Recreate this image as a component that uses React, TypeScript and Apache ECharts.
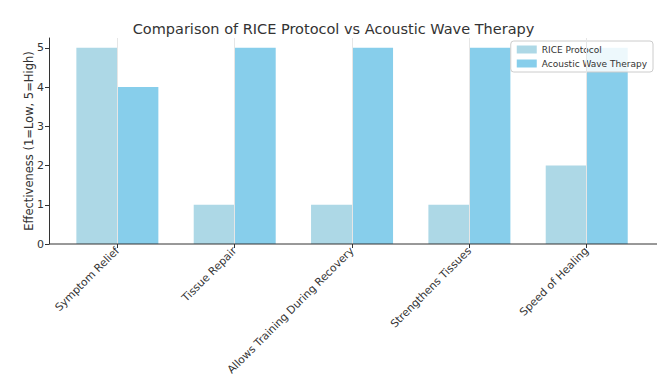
import React, { useEffect, useRef } from "react";
import * as echarts from "echarts";

const categories = [
  "Symptom Relief",
  "Tissue Repair",
  "Allows Training During Recovery",
  "Strengthens Tissues",
  "Speed of Healing",
];
const riceValues = [5, 1, 1, 1, 2];
const acousticValues = [4, 5, 5, 5, 5];
const yTicks = [0, 1, 2, 3, 4, 5];

const FONT = "DejaVu Sans";

export default function App() {
  const ref = useRef<HTMLDivElement>(null);
  useEffect(() => {
    if (!ref.current) return;
    const chart = echarts.init(ref.current, null, { renderer: "svg" });
    chart.setOption({
      animation: false,
      backgroundColor: "#ffffff",
      title: {
        text: "Comparison of RICE Protocol vs Acoustic Wave Therapy",
        left: "center",
        top: 16,
        textStyle: { fontFamily: FONT, fontSize: 14.5, fontWeight: "normal", color: "#333" },
      },
      legend: {
        orient: "vertical",
        right: 14,
        top: 41,
        backgroundColor: "rgba(255,255,255,0.85)",
        borderColor: "#cccccc",
        borderWidth: 1,
        borderRadius: 3,
        padding: [4, 6, 4, 6],
        itemGap: 5,
        itemWidth: 20,
        itemHeight: 8,
        icon: "rect",
        textStyle: { fontFamily: FONT, fontSize: 9, color: "#333" },
        data: ["RICE Protocol", "Acoustic Wave Therapy"],
      },
      grid: {
        left: 58.7,
        right: 21.6,
        top: 38,
        bottom: 134,
        containLabel: false,
        outerBoundsMode: "none",
      },
      xAxis: {
        type: "category",
        data: categories,
        axisLine: { show: false },
        axisTick: { show: true, alignWithLabel: true, length: 4, lineStyle: { color: "#333" } },
        axisLabel: {
          rotate: 45,
          interval: 0,
          margin: 5,
          fontFamily: FONT,
          fontSize: 10.8,
          color: "#333",
        },
        splitLine: { show: false },
      },
      yAxis: {
        type: "value",
        min: 0,
        max: 5.25,
        offset: 9.7,
        name: "Effectiveness (1=Low, 5=High)",
        nameLocation: "middle",
        nameGap: 14,
        nameMoveOverlap: false,
        nameTextStyle: { fontFamily: FONT, fontSize: 11.5, color: "#333" },
        axisLine: { show: true, lineStyle: { color: "#333", width: 1 } },
        axisTick: { show: true, length: 4, customValues: yTicks, lineStyle: { color: "#333" } },
        axisLabel: { customValues: yTicks, fontFamily: FONT, fontSize: 11, color: "#333", margin: 5 },
        splitLine: { show: false },
      },
      graphic: [
        {
          type: "line",
          z: 10,
          shape: { x1: 49, y1: 244, x2: 657, y2: 244 },
          style: { stroke: "#333", lineWidth: 1 },
        },
      ],
      series: [
        {
          name: "grid",
          type: "line",
          data: [],
          z: 0,
          silent: true,
          markLine: {
            silent: true,
            symbol: "none",
            label: { show: false },
            lineStyle: { color: "#e6e6e6", type: "solid", width: 1 },
            data: categories.map((c) => ({ xAxis: c })),
          },
        },
        {
          name: "RICE Protocol",
          type: "bar",
          data: riceValues,
          barWidth: 41,
          barGap: "0%",
          z: 2,
          itemStyle: { color: "#ADD8E6" },
        },
        {
          name: "Acoustic Wave Therapy",
          type: "bar",
          data: acousticValues,
          barWidth: 41,
          barGap: "0%",
          z: 2,
          itemStyle: { color: "#87CEEB" },
        },
      ],
    });
    return () => chart.dispose();
  }, []);
  return <div ref={ref} style={{ width: 667, height: 378, position: "absolute", left: 0, top: 0 }} />;
}
